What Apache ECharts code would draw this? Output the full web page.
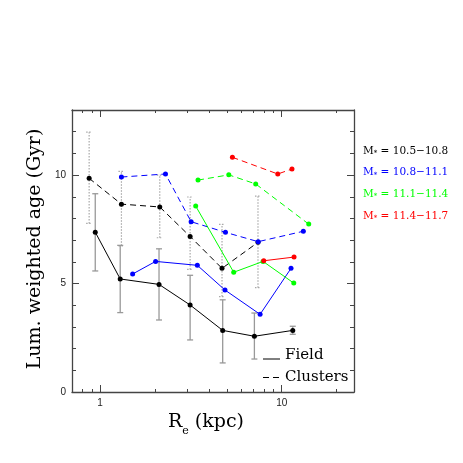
<!DOCTYPE html>
<html>
<head>
<meta charset="utf-8">
<script src="https://cdn.jsdelivr.net/npm/echarts@6/dist/echarts.min.js"></script>
<style>
  html, body { margin: 0; padding: 0; background: #fff; }
  #chart { width: 463px; height: 463px; }
</style>
</head>
<body>
<div id="chart"></div>
<script>
// mass bins
const massBins = ["10.5\u221210.8", "10.8\u221211.1", "11.1\u221211.4", "11.4\u221211.7"];
const binColors = ["#000000", "#0000ff", "#00ff00", "#ff0000"];

// field galaxies (solid lines): [Re, age]
const fieldBin1 = [[0.94, 7.37], [1.29, 5.21], [2.11, 4.96], [3.13, 4.01], [4.73, 2.84], [7.07, 2.57], [11.5, 2.84]];
const fieldBin2 = [[1.51, 5.44], [2.02, 6.02], [3.43, 5.84], [4.87, 4.70], [7.60, 3.58], [11.25, 5.70]];
const fieldBin3 = [[3.36, 8.57], [5.44, 5.52], [7.89, 6.02], [11.65, 5.02]];
const fieldBin4 = [[7.96, 6.05], [11.69, 6.22]];

// cluster galaxies (dashed lines)
const clusterBin1 = [[0.87, 9.85], [1.31, 8.66], [2.13, 8.53], [3.13, 7.17], [4.69, 5.70], [7.40, 6.90]];
const clusterBin2 = [[1.31, 9.91], [2.29, 10.05], [3.17, 7.85], [4.90, 7.36], [7.42, 6.93], [13.15, 7.41]];
const clusterBin3 = [[3.46, 9.77], [5.11, 10.01], [7.19, 9.59], [14.08, 7.74]];
const clusterBin4 = [[5.35, 10.82], [9.51, 10.05], [11.39, 10.28]];

// error bars of lowest mass bin: [Re, low, high]
const fieldErr = [[0.94, 5.58, 9.14], [1.29, 3.66, 6.76], [2.11, 3.32, 6.60], [3.13, 2.40, 5.38],
                  [4.73, 1.34, 4.25], [7.07, 1.52, 3.64], [11.5, 2.66, 3.03]];
const clusterErr = [[0.87, 7.77, 11.98], [1.31, 6.74, 10.17], [2.13, 7.11, 10.0], [3.13, 5.65, 8.99],
                    [4.69, 4.40, 7.73], [7.40, 4.81, 9.03]];

// axes
const xMin = 0.7, xMax = 25;
const xMajorTicks = [1, 10];
const xMinorTicks = [0.8, 0.9, 2, 3, 4, 5, 6, 7, 8, 9, 20];
const yMax = 13;
const yMajorTicks = [0, 5, 10];

const fieldSeries = [fieldBin1, fieldBin2, fieldBin3, fieldBin4];
const clusterSeries = [clusterBin1, clusterBin2, clusterBin3, clusterBin4];

const chart = echarts.init(document.getElementById("chart"));
const axisColor = "#444";
const lg = Math.log10;

function decoX(pos, ticks, len, labels, showLine) {
    return {
        type: "value", position: pos, min: lg(xMin), max: lg(xMax),
        axisLine: { show: showLine, onZero: false, lineStyle: { color: axisColor, width: 1.3 } },
        axisTick: { show: true, inside: true, length: len, customValues: ticks.map(lg),
                    lineStyle: { color: axisColor, width: 1 } },
        axisLabel: labels ? { show: true, customValues: labels.map(lg), margin: 6,
                              formatter: v => String(Math.round(Math.pow(10, v))),
                              fontFamily: "Liberation Sans", fontSize: 10, color: "#222" }
                          : { show: false },
        splitLine: { show: false }
    };
}

function decoY(pos, major, showLine) {
    return {
        type: "value", position: pos, min: 0, max: yMax, interval: 1,
        axisLine: { show: showLine, onZero: false, lineStyle: { color: axisColor, width: 1.3 } },
        axisTick: major
            ? { show: true, inside: true, length: 7, customValues: yMajorTicks, lineStyle: { color: axisColor } }
            : { show: true, inside: true, length: 4, lineStyle: { color: axisColor } },
        axisLabel: (major && pos === "left")
            ? { show: true, customValues: yMajorTicks, margin: 6, fontFamily: "Liberation Sans", fontSize: 10, color: "#222" }
            : { show: false },
        splitLine: { show: false }
    };
}

function errSeries(data, dotted) {
    return {
        type: "custom", xAxisIndex: 0, yAxisIndex: 0, silent: true, z: 1,
        data: data,
        renderItem: function (params, api) {
            const x = api.value(0);
            const lo = api.coord([x, api.value(1)]);
            const hi = api.coord([x, api.value(2)]);
            const style = { stroke: dotted ? "#a8a8a8" : "#999", lineWidth: dotted ? 1.2 : 1.3,
                            lineDash: dotted ? [1.5, 1.5] : null };
            const c = 3;
            return {
                type: "group",
                children: [
                    { type: "line", shape: { x1: lo[0], y1: lo[1], x2: hi[0], y2: hi[1] }, style: style },
                    { type: "line", shape: { x1: lo[0] - c, y1: lo[1], x2: lo[0] + c, y2: lo[1] }, style: style },
                    { type: "line", shape: { x1: hi[0] - c, y1: hi[1], x2: hi[0] + c, y2: hi[1] }, style: style }
                ]
            };
        }
    };
}

const series = [errSeries(clusterErr, true), errSeries(fieldErr, false)];
clusterSeries.forEach((d, i) => {
    series.push({
        type: "line", xAxisIndex: 0, yAxisIndex: 0, data: d, z: 3,
        symbol: "circle", symbolSize: 5, showSymbol: true,
        itemStyle: { color: binColors[i] },
        lineStyle: { color: binColors[i], width: 1, type: [6, 4] },
        animation: false
    });
});
fieldSeries.forEach((d, i) => {
    series.push({
        type: "line", xAxisIndex: 0, yAxisIndex: 0, data: d, z: 4,
        symbol: "circle", symbolSize: 5, showSymbol: true,
        itemStyle: { color: binColors[i] },
        lineStyle: { color: binColors[i], width: 1 },
        animation: false
    });
});

const serif = "DejaVu Serif";
const graphics = [
    { type: "text", x: 35, y: 249, rotation: Math.PI / 2,
      style: { text: "Lum. weighted age (Gyr)", font: "19px '" + serif + "'", fill: "#000",
               textAlign: "center", textVerticalAlign: "middle" } },
    { type: "text", x: 168, y: 413,
      style: { text: "{r|R}{s|e}{r| (kpc)}", fill: "#000",
               rich: { r: { fontFamily: serif, fontSize: 19, verticalAlign: "bottom" },
                       s: { fontFamily: serif, fontSize: 11, verticalAlign: "bottom", padding: [0, 0, -5, 0] } } } },
    { type: "line", shape: { x1: 263, y1: 359, x2: 280, y2: 359 }, style: { stroke: "#000", lineWidth: 1 } },
    { type: "line", shape: { x1: 263, y1: 377.5, x2: 280, y2: 377.5 }, style: { stroke: "#000", lineWidth: 1, lineDash: [6, 4] } },
    { type: "text", x: 285, y: 355, style: { text: "Field", font: "15px '" + serif + "'", fill: "#000", textVerticalAlign: "middle" } },
    { type: "text", x: 285, y: 377, style: { text: "Clusters", font: "15px '" + serif + "'", fill: "#000", textVerticalAlign: "middle" } }
];
massBins.forEach((b, i) => {
    graphics.push({
        type: "text", x: 363, y: 151 + i * 21.7,
        style: { text: "{m|M}{s|*}{t| = " + b + "}", fill: binColors[i], textVerticalAlign: "middle",
                 rich: { m: { fontFamily: serif, fontSize: 10.5, fill: binColors[i] },
                         s: { fontFamily: serif, fontSize: 7, fill: binColors[i], padding: [4, 0, 0, 0] },
                         t: { fontFamily: serif, fontSize: 10.5, fill: binColors[i] } } }
    });
});

chart.setOption({
    animation: false,
    grid: { left: 72, top: 110, width: 282, height: 282, containLabel: false },
    xAxis: [
        { type: "log", logBase: 10, min: xMin, max: xMax, position: "bottom",
          axisLine: { show: false, onZero: false }, axisTick: { show: false }, axisLabel: { show: false }, splitLine: { show: false } },
        decoX("bottom", xMajorTicks, 7, xMajorTicks, true),
        decoX("bottom", xMinorTicks, 3, null, false),
        decoX("top", xMajorTicks, 7, null, true),
        decoX("top", xMinorTicks, 3, null, false)
    ],
    yAxis: [
        decoY("left", false, true),
        decoY("left", true, false),
        decoY("right", false, true),
        decoY("right", true, false)
    ],
    series: series,
    graphic: graphics
});
</script>
</body>
</html>
